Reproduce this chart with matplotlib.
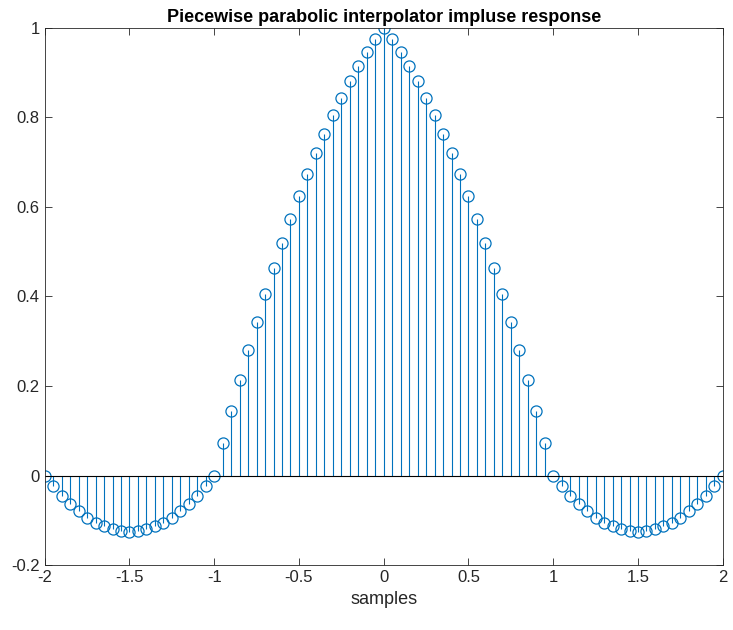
import matplotlib
matplotlib.use("Agg")
import matplotlib.pyplot as plt
import numpy as np

half_t = [0.0,0.05,0.1,0.15,0.2,0.25,0.3,0.35,0.4,0.45,0.5,0.55,0.6,0.65,0.7,0.75,0.8,0.85,0.9,0.95,
          1.0,1.05,1.1,1.15,1.2,1.25,1.3,1.35,1.4,1.45,1.5,1.55,1.6,1.65,1.7,1.75,1.8,1.85,1.9,1.95,2.0]
half_h = [1.0,0.97375,0.945,0.91375,0.88,0.84375,0.805,0.76375,0.72,0.67375,0.625,0.57375,0.52,0.46375,
          0.405,0.34375,0.28,0.21375,0.145,0.07375,0.0,-0.02375,-0.045,-0.06375,-0.08,-0.09375,-0.105,
          -0.11375,-0.12,-0.12375,-0.125,-0.12375,-0.12,-0.11375,-0.105,-0.09375,-0.08,-0.06375,-0.045,
          -0.02375,0.0]
t = [-v for v in half_t[:0:-1]] + half_t
h = half_h[:0:-1] + half_h
xticks = [-2,-1.5,-1,-0.5,0,0.5,1,1.5,2]
xlabels = ['-2','-1.5','-1','-0.5','0','0.5','1','1.5','2']
yticks = [-0.2,0,0.2,0.4,0.6,0.8,1]
ylabels = ['-0.2','0','0.2','0.4','0.6','0.8','1']

plt.rcParams['font.family'] = ['Liberation Sans', 'DejaVu Sans']
fig = plt.figure(figsize=(7.33,6.3), dpi=100)
ax = fig.add_axes([0.061,0.103,0.925,0.853])
c = '#0072BD'
ml, sl, bl = ax.stem(t, h, basefmt='k-')
plt.setp(sl, color=c, linewidth=0.8)
plt.setp(ml, color=c, markerfacecolor='none', markersize=8, markeredgewidth=0.9)
plt.setp(bl, color='black', linewidth=0.8)
ax.set_xlim(-2,2); ax.set_ylim(-0.2,1)
ax.set_xticks(xticks, xlabels); ax.set_yticks(yticks, ylabels)
ax.tick_params(direction='in', top=True, right=True, labelsize=12, length=5, width=0.6, colors='#262626')
for s in ax.spines.values():
    s.set_linewidth(0.6); s.set_color('#262626')
ax.set_xlabel('samples', fontsize=13, color='#262626')
ax.set_title('Piecewise parabolic interpolator impluse response', fontsize=13, fontweight='bold', pad=4)
fig.savefig('out.png')
